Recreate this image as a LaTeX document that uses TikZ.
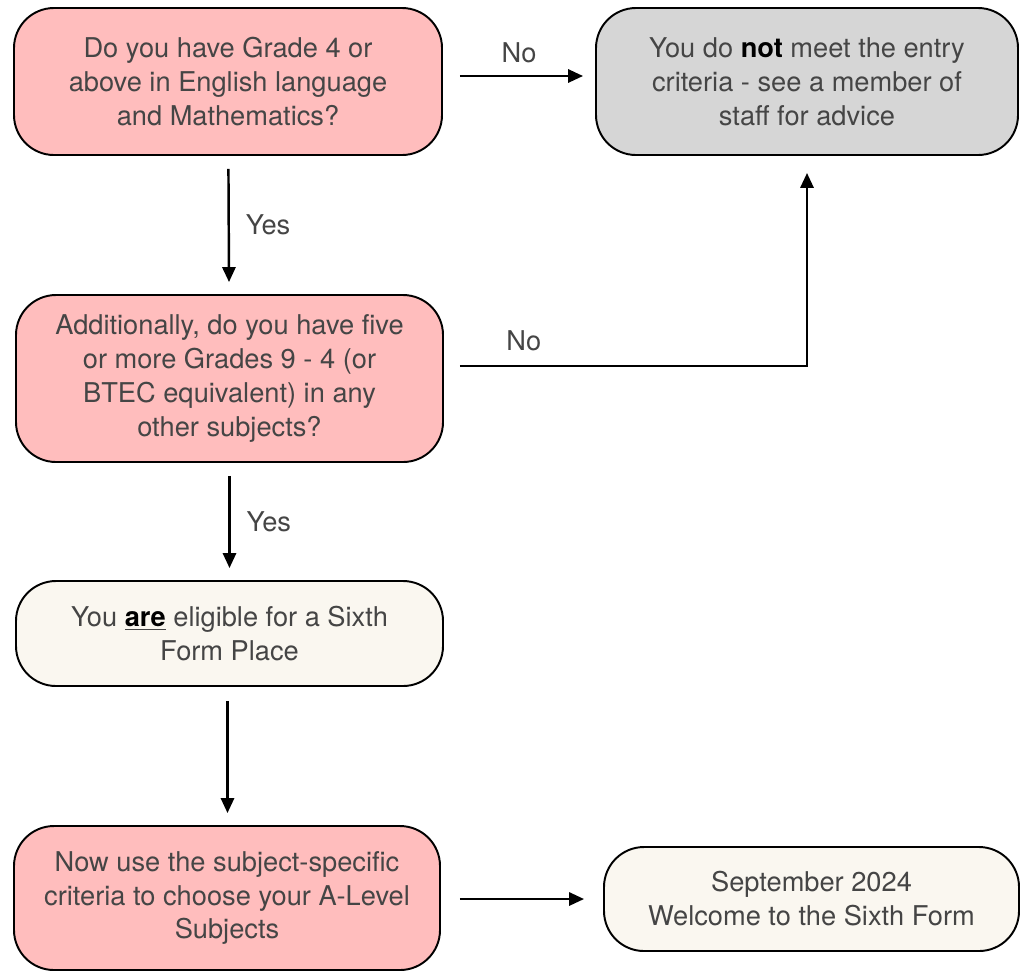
\documentclass[tikz,border=0pt]{standalone}
\usepackage{fontspec}
\setmainfont{TeX Gyre Heros}
\usetikzlibrary{arrows.meta}
\definecolor{pinkbox}{HTML}{FFBDBD}
\definecolor{greybox}{HTML}{D6D6D6}
\definecolor{creambox}{HTML}{FAF7F0}
\definecolor{txtgrey}{HTML}{454545}
\begin{document}
\begin{tikzpicture}[>={Triangle[length=8.5pt,width=7.5pt]},
		font=\fontsize{15.5}{19.3}\selectfont,
		box/.style={draw,line width=1.1pt,rounded corners=0.8cm,align=center,text=txtgrey,inner sep=0pt},
		arr/.style={->,line width=1.4pt,shorten <=0.26cm,shorten >=0.24cm},
		lbl/.style={text=txtgrey}]
		\useasboundingbox (0,0) rectangle (20.42,-19.42);
		\node[box,fill=pinkbox,minimum width=8.56cm,minimum height=2.94cm] (q1) at (4.56,-1.63) {Do you have Grade 4 or\\above in English language\\and Mathematics?};
		\node[box,fill=greybox,minimum width=8.44cm,minimum height=2.94cm] (no) at (16.14,-1.63) {You do \textbf{\color{black}not} meet the entry\\criteria - see a member of\\staff for advice};
		\node[box,fill=pinkbox,minimum width=8.54cm,minimum height=3.34cm] (q2) at (4.59,-7.57) {Additionally, do you have five\\or more Grades 9 - 4 (or\\BTEC equivalent) in any\\other subjects?};
		\node[box,fill=creambox,minimum width=8.54cm,minimum height=2.1cm] (yes) at (4.59,-12.67) {You \underline{\textbf{\color{black}are}} eligible for a Sixth\\Form Place};
		\node[box,fill=pinkbox,minimum width=8.52cm,minimum height=2.88cm] (subj) at (4.54,-17.96) {Now use the subject-specific\\criteria to choose your A-Level\\Subjects};
		\node[box,fill=creambox,minimum width=8.3cm,minimum height=2.08cm] (sept) at (16.23,-17.98) {September 2024\\Welcome to the Sixth Form};
		\coordinate (q1out) at ([yshift=0.11cm]q1.east);
		\coordinate (q2out) at ([yshift=0.25cm]q2.east);
		\draw[arr,shorten <=0.34cm] (q1out) -- (q1out -| no.west) node[lbl,midway,above=0.12cm]{No};
		\draw[arr] (q1) -- (q2) node[lbl,midway,right=0.2cm]{Yes};
		\draw[arr,shorten <=0.32cm,shorten >=0.34cm] (q2out) -| (no) node[lbl,pos=0.11,above=0.16cm]{No};
		\draw[arr] (q2) -- (yes) node[lbl,midway,right=0.2cm]{Yes};
		\draw[arr,shorten <=0.28cm] ([xshift=-0.04cm]yes.south) -- ([xshift=-0.04cm]yes.south |- subj.north);
		\draw[arr,shorten <=0.38cm,shorten >=0.38cm] (subj.east |- sept.west) -- (sept.west);
	\end{tikzpicture}
\end{document}
